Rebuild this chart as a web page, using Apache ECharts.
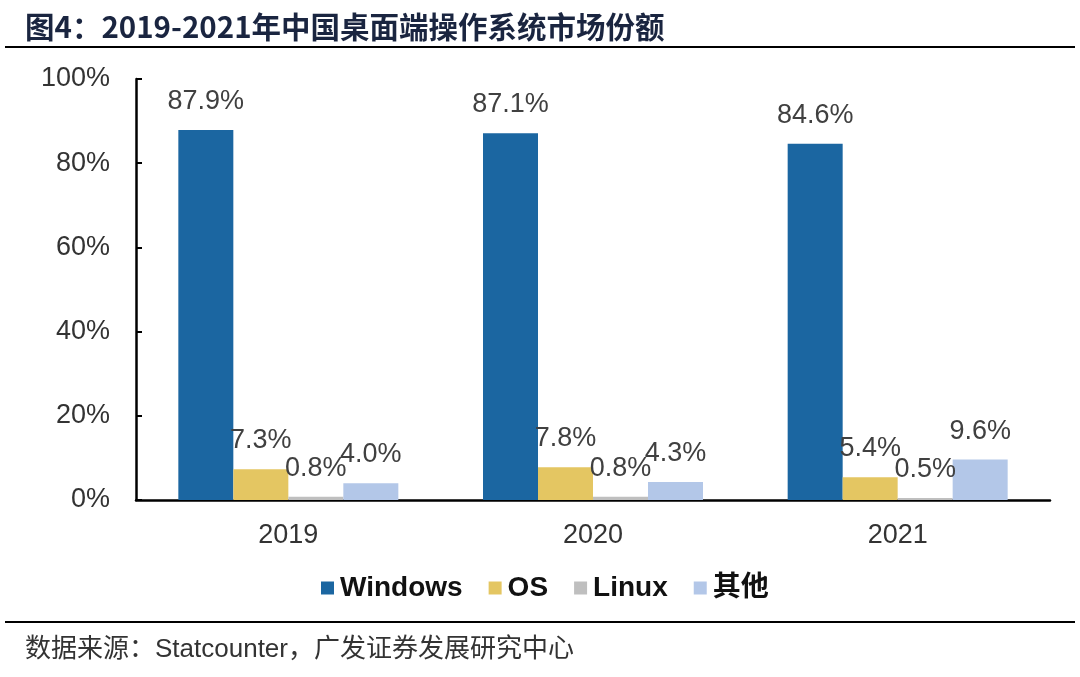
<!DOCTYPE html>
<html>
<head>
<meta charset="utf-8">
<script src="https://cdn.jsdelivr.net/npm/echarts@6/dist/echarts.min.js"></script>
<style>
html,body{margin:0;padding:0;background:#fff;}
#chart{width:1080px;height:677px;}
</style>
</head>
<body>
<div id="chart"></div>
<script>
const categories = ['2019', '2020', '2021'];
const windowsValues = [87.9, 87.1, 84.6];
const osValues = [7.3, 7.8, 5.4];
const linuxValues = [0.8, 0.8, 0.5];
const otherValues = [4.0, 4.3, 9.6];
const seriesNames = ['Windows', 'OS', 'Linux', '其他'];
const seriesColors = ['#1B66A1', '#E4C662', '#BFBFBF', '#B3C7E8'];
const yTicks = [0, 20, 40, 60, 80, 100];

const chart = echarts.init(document.getElementById('chart'));
const allValues = [windowsValues, osValues, linuxValues, otherValues];
const labelFont = 'Liberation Sans, Arial, sans-serif';

const series = allValues.map((vals, i) => ({
  name: seriesNames[i],
  type: 'bar',
  data: vals,
  barWidth: 55,
  barGap: '0%',
  itemStyle: { color: seriesColors[i] },
  label: {
    show: true,
    position: 'top',
    distance: 15,
    color: '#404040',
    fontSize: 27,
    fontFamily: labelFont,
    formatter: p => p.value.toFixed(1) + '%'
  }
}));

chart.setOption({
  animation: false,
  backgroundColor: '#fff',
  title: [{
    text: '图4：2019-2021年中国桌面端操作系统市场份额',
    left: 20, top: 7,
    textStyle: { fontSize: 29.5, fontWeight: 'bold', color: '#1A2540', fontFamily: 'Noto Sans CJK SC, sans-serif' }
  }, {
    text: '数据来源：Statcounter，广发证券发展研究中心',
    left: 20, top: 632,
    textStyle: { fontSize: 26, fontWeight: 'normal', color: '#333', fontFamily: 'Liberation Sans, Noto Sans CJK SC, sans-serif' }
  }],
  graphic: [
    { type: 'line', shape: { x1: 5, y1: 47, x2: 1075, y2: 47 }, style: { stroke: '#000', lineWidth: 2 } },
    { type: 'line', shape: { x1: 5, y1: 622, x2: 1075, y2: 622 }, style: { stroke: '#000', lineWidth: 2 } }
  ],
  legend: {
    data: seriesNames,
    top: 569,
    left: 316,
    itemWidth: 13,
    itemHeight: 13,
    itemGap: 26,
    icon: 'rect',
    textStyle: { fontSize: 28, fontWeight: 'bold', color: '#111', fontFamily: 'Liberation Sans, Noto Sans CJK SC, sans-serif', padding: [0,0,0,1] }
  },
  grid: { left: 136, right: 30, top: 79, bottom: 177 },
  xAxis: {
    type: 'category',
    data: categories,
    axisLine: { lineStyle: { color: '#000', width: 2.5 } },
    axisTick: { show: false },
    axisLabel: { fontSize: 27, color: '#333', margin: 22, fontFamily: labelFont }
  },
  yAxis: {
    type: 'value',
    min: 0, max: 100, interval: 20,
    axisLine: { show: true, lineStyle: { color: '#000', width: 2.5 } },
    axisTick: { show: true, inside: true, length: 6, lineStyle: { color: '#000', width: 2 } },
    splitLine: { show: false },
    axisLabel: {
      fontSize: 27, color: '#333', margin: 26, fontFamily: labelFont,
      formatter: v => yTicks.includes(v) ? v + '%' : ''
    }
  },
  series: series
});
</script>
</body>
</html>
